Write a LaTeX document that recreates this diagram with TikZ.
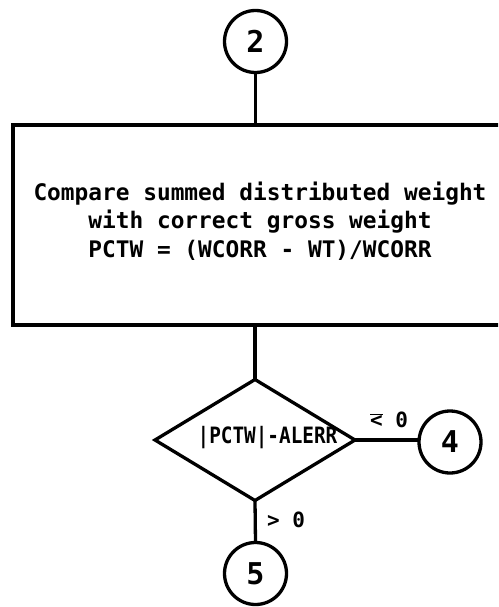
\documentclass[tikz,border=0pt]{standalone}
\usepackage{fontspec}
\usepackage{graphicx}
\setmonofont{DejaVu Sans Mono}
\usetikzlibrary{shapes.geometric}
\tikzset{
  conn/.style={circle,draw,line width=3.3pt,minimum size=62pt,inner sep=0pt,outer sep=0pt,
    font=\ttfamily\bfseries\fontsize{30}{32}\selectfont},
  procbox/.style={rectangle,draw,line width=3.3pt,minimum width=507pt,minimum height=200pt,inner sep=0pt,outer sep=0pt},
  decbox/.style={diamond,draw,line width=3.3pt,minimum width=200pt,minimum height=121pt,inner sep=0pt,outer sep=0pt},
  flow/.style={line width=3.3pt},
  txt/.style={font=\ttfamily\bfseries\fontsize{22.8}{28.5}\selectfont,align=center,inner sep=0pt},
  lbl/.style={font=\ttfamily\bfseries\fontsize{21}{22}\selectfont,inner sep=0pt},
}
\begin{document}
\begin{tikzpicture}[x=1pt,y=-1pt]
\clip (0,0) rectangle (498,607);
\node[conn] (c2) at (255.5,41.5) {2};
\node[procbox] (box) at (266.5,225) {};
\node[txt] (t) at (260,221) {Compare summed distributed weight\\with correct gross weight\\PCTW = (WCORR - WT)/WCORR};
\node[decbox] (d) at (255,440) {};
\node[lbl,font=\ttfamily\bfseries\fontsize{22.5}{24}\selectfont] (dt) at (267.5,438) {\scalebox{0.86}[1]{|PCTW|-ALERR}};
\node[conn] (c4) at (450,442) {4};
\node[conn] (c5) at (255.5,573.5) {5};
\draw[flow] (c2.south) -- (c2.south |- box.north);
\draw[flow] (d.north |- box.south) -- (d.north);
\draw[flow] (d.east) -- (d.east -| c4.west);
\draw[flow] (d.south) -- (c5.north);
\node[lbl] (le) at (389,420) {$\overline{\hbox{\ttfamily\bfseries<}}$ 0};
\node[lbl] (gt) at (286,520) {> 0};
\end{tikzpicture}
\end{document}
